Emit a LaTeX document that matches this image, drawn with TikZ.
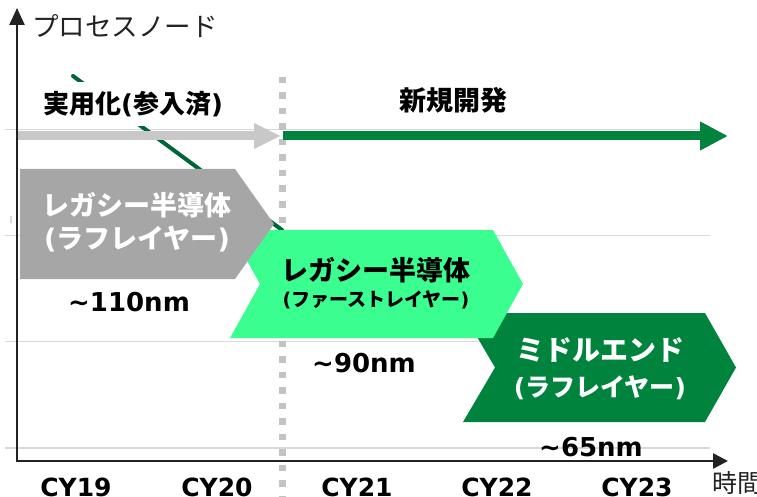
\documentclass[tikz,border=0pt]{standalone}
\usepackage{fontspec}
\usetikzlibrary{arrows.meta}
\newfontfamily\jp{Noto Sans CJK JP}
\newfontfamily\dv{DejaVu Sans}
\newcommand\Lpar{{\dv(}}
\newcommand\Rpar{{\dv)}}
\newcommand\fs[1]{\fontsize{#1}{#1}\selectfont}
\definecolor{gridc}{HTML}{D9D9D9}
\definecolor{dotc}{HTML}{C3C3C3}
\definecolor{arrgray}{HTML}{C8C8C8}
\definecolor{pentgray}{HTML}{A6A6A6}
\definecolor{lightg}{HTML}{3AFF90}
\definecolor{darkg}{HTML}{00843D}
\definecolor{lineg}{HTML}{00663A}
\definecolor{axisc}{HTML}{222222}
\tikzset{
  gridline/.style={draw=gridc, line width=1.5pt},
  jpbold/.style={font=\jp\bfseries\fs{#1}, inner sep=0pt},
  nmlabel/.style={font=\dv\bfseries\fs{26}, inner sep=0pt, text=black},
  cylabel/.style={font=\dv\bfseries\fs{25}, inner sep=0pt, text=black},
  bigarrow/.style={line width=9pt},
}
\begin{document}
\begin{tikzpicture}[x=1pt,y=-1pt]
\useasboundingbox (0,0) rectangle (757,497);
% grid lines
\foreach \yy in {129.5,235.5,341.7,448} \draw[gridline] (5,\yy) -- (710,\yy);
\draw[gridc, line width=2.5pt] (11,216) -- (11,223);
% dotted divider
\draw[dotc, line width=7pt, dash pattern=on 6.5pt off 9pt] (282,77) -- (282,497);
% descending line
\coordinate (ls) at (73,76);
\coordinate (le) at (282,230);
\draw[lineg, line width=4pt, line cap=round] (ls) -- (le);
% label boxes
\node[jpbold=26, fill=white, minimum height=44pt, inner xsep=6pt, text=black] (jitsuyo) at (133,104) {実用化\Lpar 参入済\Rpar};
\node[jpbold=27, text=black] (shinki) at (453,100) {新規開発};
% big arrows
\coordinate (ga) at (17,136);
\coordinate (gb) at (281,136);
\coordinate (gc) at (283,136);
\coordinate (gd) at (728,136);
\draw[bigarrow, arrgray, -{Triangle[length=27pt,width=24pt]}] (ga) -- (gb);
\draw[bigarrow, darkg, -{Triangle[length=28pt,width=27pt]}] (gc) -- (gd);
% chevrons
\fill[darkg] (463,313) -- (705,313) -- (736,367.5) -- (705,422) -- (463,422) -- (495,367.5) -- cycle;
\fill[lightg] (230,230) -- (493,230) -- (523,284) -- (493,338) -- (230,338) -- (260,284) -- cycle;
\fill[pentgray] (20,169) -- (235,169) -- (274,224) -- (235,279) -- (20,279) -- cycle;
% axes
\coordinate (ytop) at (17,8);
\coordinate (org) at (17,461);
\coordinate (xend) at (728,461);
\draw[axisc, line width=2.5pt, {Triangle[length=17pt,width=15pt]}-{Triangle[length=15pt,width=15pt]}] (ytop) -- (org) -- (xend);
\node[font=\jp\fs{26.5}, inner sep=0pt, anchor=west, text=axisc] (ylab) at (32,26) {プロセスノード};
\node[font=\jp\fs{25}, inner sep=0pt, anchor=west, text=axisc] (xlab) at (712,483) {時間};
% chevron texts
\node[jpbold=27, text=white] (g1) at (137,205) {レガシー半導体};
\node[jpbold=27, text=white] (g2) at (137,239) {\Lpar ラフレイヤー\Rpar};
\node[jpbold=27, text=black] (l1) at (376,270) {レガシー半導体};
\node[jpbold=19, text=black] (l2) at (376,300) {\Lpar ファーストレイヤー\Rpar};
\node[jpbold=28, text=white] (d1) at (600,350) {ミドルエンド};
\node[jpbold=25, text=white] (d2) at (600,388) {\Lpar ラフレイヤー\Rpar};
% nm labels
\node[nmlabel] (n110) at (129,302) {\symbol{"7E}110nm};
\node[nmlabel] (n90) at (364,363) {\symbol{"7E}90nm};
\node[nmlabel] (n65) at (591,447) {\symbol{"7E}65nm};
% year labels
\node[cylabel] (c19) at (76,487) {CY19};
\node[cylabel] (c20) at (217,487) {CY20};
\node[cylabel] (c21) at (357,487) {CY21};
\node[cylabel] (c22) at (497,487) {CY22};
\node[cylabel] (c23) at (637,487) {CY23};
\end{tikzpicture}
\end{document}
